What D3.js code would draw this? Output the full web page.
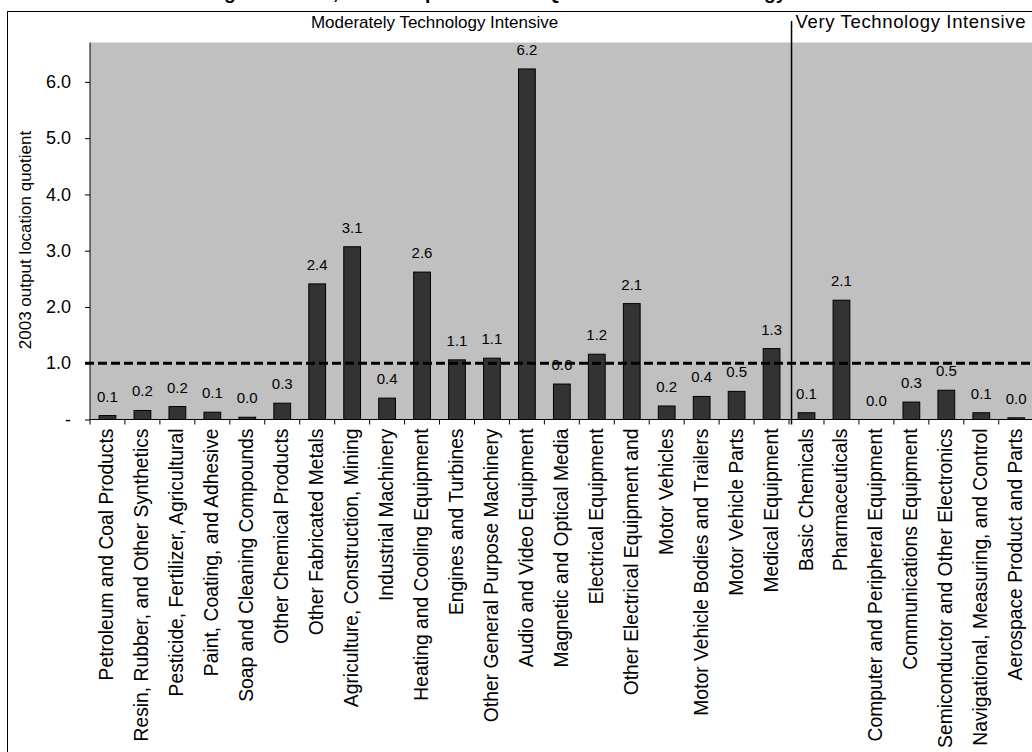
<!DOCTYPE html>
<html>
<head>
<meta charset="utf-8">
<script src="https://cdn.jsdelivr.net/npm/d3@7/dist/d3.min.js"></script>
<style>
  html, body { margin: 0; padding: 0; background: #fff; }
  svg { display: block; font-family: "Liberation Sans", Arial, sans-serif; }
</style>
</head>
<body>
<svg id="chart" width="1032" height="752"></svg>
<script>
// Industries, grouped by technology intensity
const moderateIndustries = [
  "Petroleum and Coal Products",
  "Resin, Rubber, and Other Synthetics",
  "Pesticide, Fertilizer, Agricultural",
  "Paint, Coating, and Adhesive",
  "Soap and Cleaning Compounds",
  "Other Chemical Products",
  "Other Fabricated Metals",
  "Agriculture, Construction, Mining",
  "Industrial Machinery",
  "Heating and Cooling Equipment",
  "Engines and Turbines",
  "Other General Purpose Machinery",
  "Audio and Video Equipment",
  "Magnetic and Optical Media",
  "Electrical Equipment",
  "Other Electrical Equipment and",
  "Motor Vehicles",
  "Motor Vehicle Bodies and Trailers",
  "Motor Vehicle Parts",
  "Medical Equipment"
];
const veryIndustries = [
  "Basic Chemicals",
  "Pharmaceuticals",
  "Computer and Peripheral Equipment",
  "Communications Equipment",
  "Semiconductor and Other Electronics",
  "Navigational, Measuring, and Control",
  "Aerospace Product and Parts"
];

// 2003 output location quotients
const moderateLQ = [0.07, 0.16, 0.23, 0.13, 0.04, 0.29, 2.41, 3.07, 0.38, 2.62,
                    1.06, 1.09, 6.23, 0.63, 1.16, 2.06, 0.24, 0.41, 0.50, 1.26];
const veryLQ = [0.12, 2.12, 0.00, 0.31, 0.52, 0.12, 0.03];

const yTickValues = [0, 1, 2, 3, 4, 5, 6];
const yTickLabels = ["-", "1.0", "2.0", "3.0", "4.0", "5.0", "6.0"];
const referenceLQ = 1.0;

const groupLabels = ["Moderately Technology Intensive", "Very Technology Intensive"];
const titleText = "Manufacturing Industries, 2003 Output Location Quotients and Technology Intensive";
const yAxisTitle = "2003 output location quotient";

const categories = moderateIndustries.concat(veryIndustries);
const values = moderateLQ.concat(veryLQ);
const data = categories.map((c, i) => ({ name: c, value: values[i] }));

const svg = d3.select("#chart");
const W = 1032, H = 752;
const plot = { left: 90, top: 42.5, right: 1033.7, bottom: 419.5 };

const x = d3.scaleBand().domain(categories).range([plot.left, plot.right]).padding(0);
const y = d3.scaleLinear().domain([0, 6.7]).range([plot.bottom, plot.top]);
const barW = x.bandwidth() * 0.48;

// Outer chart frame
svg.append("rect")
  .attr("x", 7.5).attr("y", 11.5)
  .attr("width", W + 10).attr("height", H)
  .attr("fill", "#fff").attr("stroke", "#000").attr("stroke-width", 1);

// Title: sits above the frame, only its descenders reach into view
const title = svg.append("text")
  .attr("x", 0).attr("y", -1)
  .attr("text-anchor", "start")
  .attr("font-size", 20).attr("font-weight", "bold")
  .text(titleText);
{
  const node = title.node();
  const gIdx = titleText.indexOf("Manufacturing") + 12;
  const gyIdx = titleText.indexOf("gy");
  const mid = i => node.getStartPositionOfChar(i).x + node.getSubStringLength(i, 1) / 2;
  const span = mid(gyIdx) - mid(gIdx);
  title.attr("font-size", 20 * 540 / span);
  title.attr("x", 230 - mid(gIdx));
}

// Plot area background
svg.append("rect")
  .attr("x", plot.left).attr("y", plot.top)
  .attr("width", plot.right - plot.left).attr("height", plot.bottom - plot.top)
  .attr("fill", "#c0c0c0");

// Bars
svg.append("g").selectAll("rect")
  .data(data)
  .join("rect")
  .attr("x", d => x(d.name) + (x.bandwidth() - barW) / 2)
  .attr("y", d => y(d.value))
  .attr("width", barW)
  .attr("height", d => y(0) - y(d.value))
  .attr("fill", "#333333")
  .attr("stroke", "#000")
  .attr("stroke-width", 1);

// Value labels
svg.append("g").selectAll("text")
  .data(data)
  .join("text")
  .attr("x", d => x(d.name) + x.bandwidth() / 2)
  .attr("y", d => y(d.value) - 14)
  .attr("text-anchor", "middle")
  .attr("font-size", 15)
  .attr("fill", "#000")
  .text(d => d.value.toFixed(1));

// Reference line at LQ = 1.0
svg.append("line")
  .attr("x1", plot.left - 5).attr("x2", plot.right)
  .attr("y1", y(referenceLQ)).attr("y2", y(referenceLQ))
  .attr("stroke", "#000").attr("stroke-width", 3)
  .attr("stroke-dasharray", "9,4");

// Y axis
const yAxis = d3.axisLeft(y)
  .tickValues(yTickValues)
  .tickFormat((d, i) => yTickLabels[i])
  .tickSize(5).tickPadding(14);
const gy = svg.append("g").attr("transform", `translate(${plot.left},0)`).call(yAxis);
gy.select(".domain").attr("d", `M0,${plot.top}V${plot.bottom}`).attr("stroke", "#000");
gy.selectAll("text").attr("font-size", 18).attr("font-family", "Liberation Sans, Arial, sans-serif").attr("fill", "#000");
gy.selectAll("line").attr("stroke", "#000");

// X axis: ticks between categories
const gx = svg.append("g").attr("transform", `translate(0,${plot.bottom})`);
gx.append("line").attr("x1", plot.left).attr("x2", plot.right).attr("stroke", "#000");
gx.selectAll("line.tick")
  .data(categories)
  .join("line")
  .attr("class", "tick")
  .attr("x1", d => x(d)).attr("x2", d => x(d))
  .attr("y1", 0).attr("y2", 5)
  .attr("stroke", "#000");
gx.selectAll("text")
  .data(categories)
  .join("text")
  .attr("transform", d => `translate(${x(d) + x.bandwidth() / 2 + 6},9) rotate(-90)`)
  .attr("text-anchor", "end")
  .attr("font-size", 19.3)
  .attr("fill", "#000")
  .text(d => d);

// Divider between the two groups
const divX = x(veryIndustries[0]) + 2.5;
svg.append("line")
  .attr("x1", divX).attr("x2", divX)
  .attr("y1", 21).attr("y2", plot.bottom + 5)
  .attr("stroke", "#000").attr("stroke-width", 1.5);

// Group headings
svg.append("text")
  .attr("x", (plot.left + x(veryIndustries[0])) / 2 - 5).attr("y", 28)
  .attr("text-anchor", "middle").attr("font-size", 17)
  .text(groupLabels[0]);
svg.append("text")
  .attr("x", divX + 4).attr("y", 28)
  .attr("text-anchor", "start").attr("font-size", 18.5)
  .attr("textLength", 230).attr("lengthAdjust", "spacing")
  .text(groupLabels[1]);

// Y axis title
svg.append("text")
  .attr("transform", `translate(31,${(plot.top + plot.bottom) / 2 + 9}) rotate(-90)`)
  .attr("text-anchor", "middle").attr("font-size", 17)
  .text(yAxisTitle);
</script>
</body>
</html>
